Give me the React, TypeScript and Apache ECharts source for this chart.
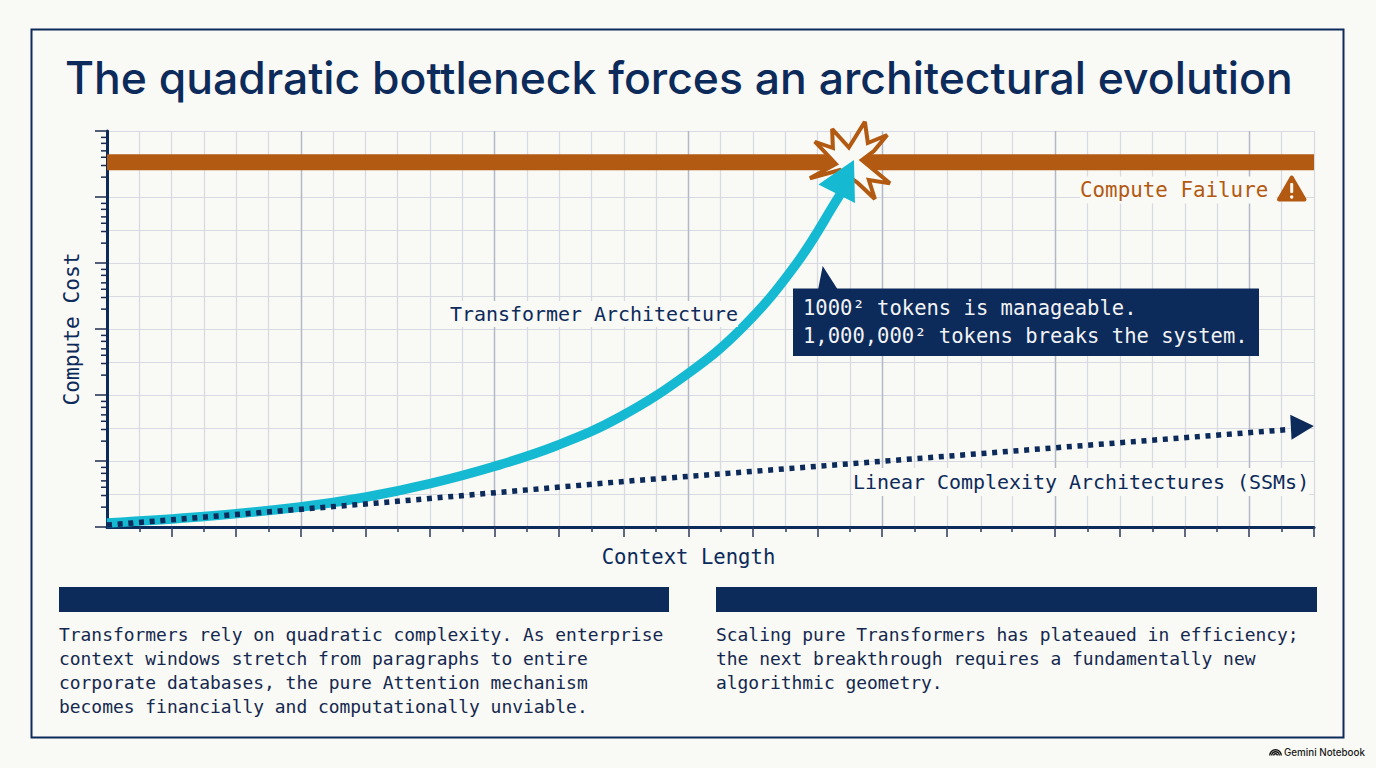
import React, { useEffect, useRef } from "react";
import * as echarts from "echarts";

const titleText = "The quadratic bottleneck forces an architectural evolution";
const xAxisName = "Context Length";
const yAxisName = "Compute Cost";

// x in grid cells, y on a log cost scale
const transformerX = [0, 3, 5.98, 7.99, 10, 11.98, 13.93, 15.88, 17.99, 19.69, 21.36, 22.69, 22.88];
const transformerY = [1.15, 1.44, 2.01, 2.82, 4.54, 8.25, 17.2, 46.4, 212, 1072, 10000, 107000, 146800];
const linearX = [0, 8.78, 16, 36.6];
const linearY = [1.07, 2.4, 4.9, 30];
const failureX = [0, 37.37];
const failureY = [336000, 336000];
const transformerHead = [22.86, 202000];
const linearHead = [37.01, 33.2];
const burst = [23.0, 358800];
const xMax = 37.37;
const xLongTicks = [2, 4, 6, 8, 10, 12, 14, 16, 18, 20, 22, 24, 26, 29.35, 31.36, 33.37, 35.36, 37.37];
const xShortTicks = [1, 3, 5, 7, 9, 11, 13, 15, 17, 19, 21, 23, 25, 27.06, 28.02, 30.36, 32.37, 34.37, 36.37];
const xMajorLines = [6, 12, 18, 24, 29.35, 35.36];
const yMinorMultipliers = [2, 3, 4, 5, 6.5, 8];
const yDecades = [1, 10, 100, 1000, 10000, 100000];

const leftBody = [
  "Transformers rely on quadratic complexity. As enterprise",
  "context windows stretch from paragraphs to entire",
  "corporate databases, the pure Attention mechanism",
  "becomes financially and computationally unviable.",
];
const rightBody = [
  "Scaling pure Transformers has plateaued in efficiency;",
  "the next breakthrough requires a fundamentally new",
  "algorithmic geometry.",
];
const calloutLines = ["1000² tokens is manageable.", "1,000,000² tokens breaks the system."];
const failureLabel = "Compute Failure";
const transformerLabel = "Transformer Architecture";
const linearLabel = "Linear Complexity Architectures (SSMs)";
const footerLabel = "Gemini Notebook";

const BG = "#f9f9f5";
const NAVY = "#0c2a5a";
const CYAN = "#15bad2";
const RUST = "#b35a12";
const MONO = "'DejaVu Sans Mono', monospace";
const GRID_MINOR = "#d8dae1";
const GRID_MAJOR = "#b4b8c6";

const BURST_PATH =
  "path://M22.3 7.3 L39 25.8 L55 0 L58 21.3 L77.3 13.3 L64 29.3 L52 38.3 L80 61.6 L59 58.3 L65 77.3 L48 61.3 L30 48.3 L0 56.6 L26 42.3 L13 28.3 L5 20 L23 26.3 Z";

function zip(xs: number[], ys: number[]) {
  return xs.map((x, i) => [x, ys[i]]);
}

function monoText(text: string, x: number, y: number, size: number, fill: string, extra: any = {}) {
  return {
    type: "text",
    x,
    y,
    z: 100,
    style: { text, fill, font: `${size}px ${MONO}`, textVerticalAlign: "middle", ...extra },
  };
}

const hiddenX = {
  type: "value",
  position: "bottom",
  min: 0,
  max: xMax,
  axisLabel: { show: false },
  axisLine: { show: false },
};

export default function App() {
  const ref = useRef<HTMLDivElement>(null);
  useEffect(() => {
    document.body.style.margin = "0";
    const chart = echarts.init(ref.current!, undefined, { renderer: "svg" });
    const minorTicks = yDecades.flatMap((d) => yMinorMultipliers.map((m) => [0, d * m]));
    chart.setOption({
      animation: false,
      backgroundColor: BG,
      title: {
        text: titleText,
        left: 65,
        top: 55,
        padding: 0,
        textStyle: { fontFamily: "Inter", fontSize: 44.5, fontWeight: 500, color: NAVY },
      },
      grid: { left: 107, right: 62, top: 131, bottom: 241 },
      xAxis: [
        {
          ...hiddenX,
          name: xAxisName,
          nameLocation: "middle",
          nameGap: 19,
          nameTextStyle: { fontFamily: MONO, fontSize: 20.6, color: NAVY, padding: [0, 44, 0, 0] },
          axisLine: { show: true, lineStyle: { color: NAVY, width: 3 } },
          axisTick: { show: true, length: 10, customValues: xLongTicks, lineStyle: { color: "#2b3a5a", width: 1.5 } },
          splitLine: { show: true, lineStyle: { color: GRID_MINOR, width: 1.2 } },
        },
        {
          ...hiddenX,
          axisTick: { show: true, length: 5, customValues: xShortTicks, lineStyle: { color: "#2b3a5a", width: 1.5 } },
          splitLine: { show: true, lineStyle: { color: GRID_MINOR, width: 1.2 } },
        },
        {
          ...hiddenX,
          axisTick: { show: false, customValues: xMajorLines },
          splitLine: { show: true, lineStyle: { color: GRID_MAJOR, width: 1.4 } },
        },
      ],
      yAxis: [
        {
          type: "log",
          logBase: 10,
          min: 1,
          max: 1000000,
          splitNumber: 6,
          name: yAxisName,
          nameLocation: "middle",
          nameGap: 25,
          nameTextStyle: { fontFamily: MONO, fontSize: 21.2, color: NAVY },
          axisLine: { show: true, lineStyle: { color: NAVY, width: 3 } },
          axisTick: { show: true, length: 12, lineStyle: { color: "#1c2c50", width: 1.5 } },
          axisLabel: { show: false },
          splitLine: { show: false },
        },
        {
          type: "value",
          position: "left",
          min: 0,
          max: 12,
          interval: 1,
          axisLine: { show: false },
          axisTick: { show: false },
          axisLabel: { show: false },
          splitLine: { show: true, lineStyle: { color: GRID_MINOR, width: 1.2 } },
        },
      ],
      series: [
        {
          type: "custom",
          name: "y minor ticks",
          data: minorTicks,
          silent: true,
          z: 2,
          renderItem: (_p: any, api: any) => {
            const pt = api.coord([0, api.value(1)]);
            return {
              type: "line",
              shape: { x1: pt[0] - 6, y1: pt[1], x2: pt[0], y2: pt[1] },
              style: { stroke: "#1c2c50", lineWidth: 1.5 },
            };
          },
        },
        {
          type: "line",
          name: failureLabel,
          data: zip(failureX, failureY),
          showSymbol: false,
          symbol: "none",
          z: 3,
          lineStyle: { color: RUST, width: 16, cap: "butt" },
        },
        {
          type: "scatter",
          name: "burst",
          data: [burst],
          symbol: BURST_PATH,
          symbolSize: [80, 77.3],
          z: 4,
          itemStyle: { color: BG, borderColor: RUST, borderWidth: 4, borderMiterLimit: 2.5, opacity: 1 },
        },
        {
          type: "line",
          name: linearLabel,
          data: zip(linearX, linearY),
          showSymbol: false,
          symbol: "none",
          z: 6,
          lineStyle: { color: NAVY, width: 5.5, type: [5, 5.7], cap: "butt" },
        },
        {
          type: "scatter",
          name: "linear head",
          data: [linearHead],
          symbol: "triangle",
          symbolSize: [25, 23],
          symbolRotate: -87,
          z: 6,
          itemStyle: { color: NAVY, opacity: 1 },
        },
        {
          type: "line",
          name: transformerLabel,
          data: zip(transformerX, transformerY),
          smooth: 0.4,
          showSymbol: false,
          symbol: "none",
          z: 5,
          lineStyle: { color: CYAN, width: 9.5, cap: "butt" },
        },
        {
          type: "scatter",
          name: "transformer head",
          data: [transformerHead],
          symbol: "triangle",
          symbolSize: [41, 38],
          symbolRotate: -27,
          z: 7,
          itemStyle: { color: CYAN, opacity: 1 },
        },
      ],
      graphic: [
        {
          type: "rect",
          z: -1,
          shape: { x: 31.5, y: 29.5, width: 1312, height: 708 },
          style: { fill: "none", stroke: NAVY, lineWidth: 2 },
        },
        { type: "rect", z: 100, shape: { x: 59, y: 587, width: 610, height: 25 }, style: { fill: NAVY } },
        { type: "rect", z: 100, shape: { x: 716, y: 587, width: 601, height: 25 }, style: { fill: NAVY } },
        ...leftBody.map((t, i) => monoText(t, 59, 634.5 + i * 24, 17.93, "#14284f")),
        ...rightBody.map((t, i) => monoText(t, 716, 634.5 + i * 24, 17.93, "#14284f")),
        monoText(transformerLabel, 450, 314, 19.95, NAVY, { backgroundColor: BG, padding: [3, 0] }),
        monoText(linearLabel, 853, 482, 19.95, NAVY, { backgroundColor: BG, padding: [4, 0] }),
        monoText(failureLabel, 1080, 190, 20.85, RUST, { backgroundColor: BG, padding: [3, 8, 3, 0] }),
        {
          type: "polygon",
          z: 100,
          shape: { points: [[822.7, 266], [838, 290], [818, 290]] },
          style: { fill: NAVY },
        },
        { type: "rect", z: 100, shape: { x: 793, y: 288.5, width: 466, height: 67.5 }, style: { fill: NAVY } },
        ...calloutLines.map((t, i) => monoText(t, 803, 308 + i * 28, 20.53, "#f1f3f5")),
        {
          type: "polygon",
          z: 100,
          shape: { points: [[1291.7, 177.5], [1304.5, 199.5], [1279, 199.5]] },
          style: { fill: RUST, stroke: RUST, lineWidth: 4, lineJoin: "round" },
        },
        { type: "rect", z: 101, shape: { x: 1290.2, y: 183, width: 3, height: 10, r: 1 }, style: { fill: BG } },
        { type: "circle", z: 101, shape: { cx: 1291.7, cy: 197, r: 1.7 }, style: { fill: BG } },
        ...[5.8, 3.8, 1.8].map((r) => ({
          type: "arc",
          z: 100,
          shape: { cx: 1275.5, cy: 755.5, r, startAngle: Math.PI, endAngle: 0 },
          style: { stroke: "#111", fill: "none", lineWidth: 1.4 },
        })),
        {
          type: "text",
          x: 1284,
          y: 752.5,
          z: 100,
          style: { text: footerLabel, fill: "#1a1a1a", font: "500 9.8px Inter", textVerticalAlign: "middle" },
        },
      ],
    });
    return () => chart.dispose();
  }, []);
  return <div ref={ref} style={{ position: "fixed", left: 0, top: 0, width: 1376, height: 768 }} />;
}
